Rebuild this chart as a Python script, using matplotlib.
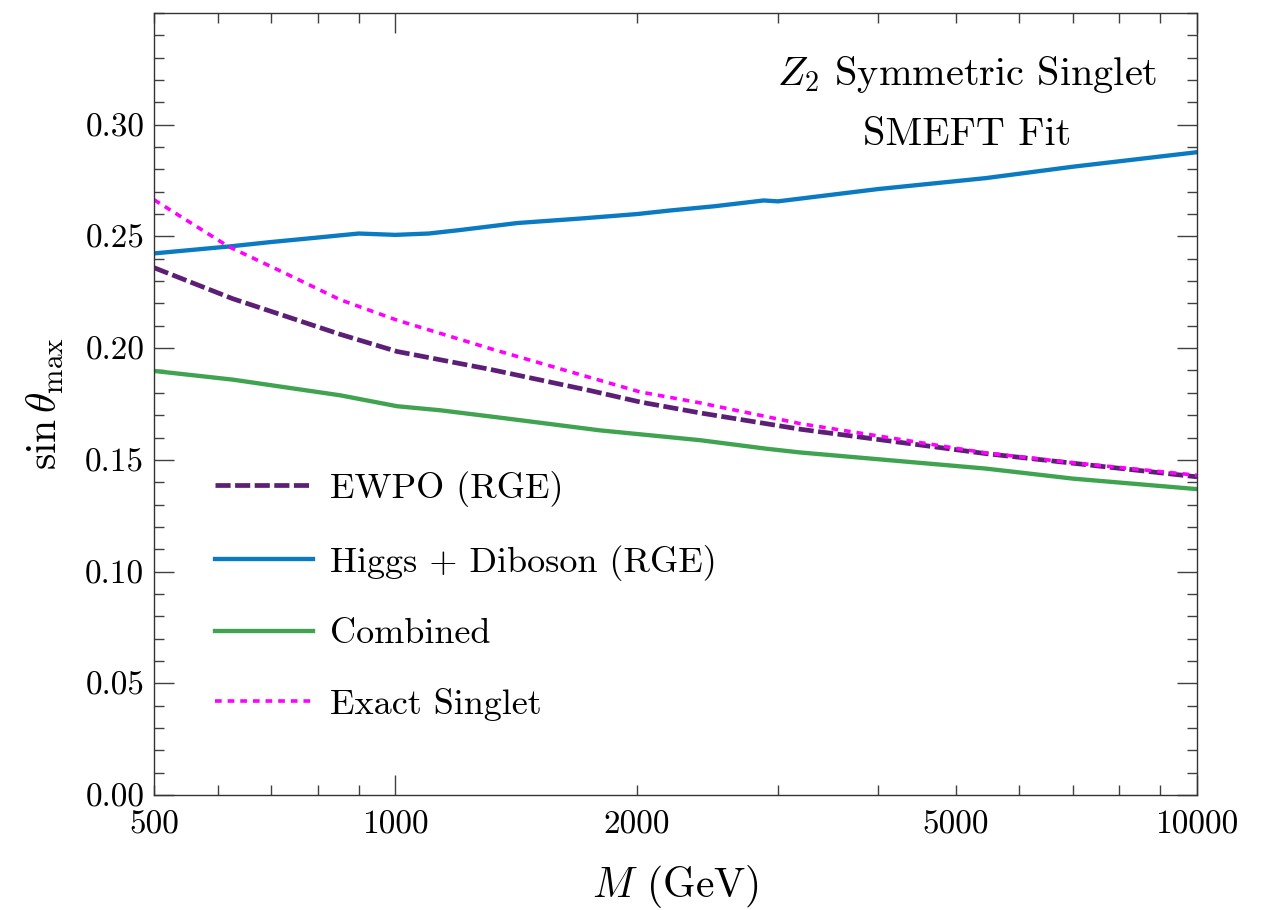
import numpy as np
import matplotlib
matplotlib.use("Agg")
import matplotlib.pyplot as plt
from matplotlib.ticker import FixedLocator, FuncFormatter, MultipleLocator

plt.rcParams['font.family'] = 'serif'
plt.rcParams['font.serif'] = ['cmr10']
plt.rcParams['mathtext.fontset'] = 'cm'
plt.rcParams['axes.formatter.use_mathtext'] = True

# values
m_higgs = [500, 620, 700, 800, 900, 1000, 1100, 1200, 1420, 1700, 2000, 2200, 2500, 2880, 3000, 4000, 5450, 7000, 10000]
s_higgs = [0.2424, 0.2455, 0.2475, 0.2495, 0.2513, 0.2507, 0.2513, 0.2528, 0.2560, 0.2580, 0.2600, 0.2616, 0.2635, 0.2661, 0.2657, 0.2712, 0.2761, 0.2812, 0.2877]

m_comb = [500, 627, 853, 1005, 1137, 1350, 1800, 2400, 2900, 3200, 5450, 7000, 10000]
s_comb = [0.1898, 0.1859, 0.1789, 0.1740, 0.1722, 0.1689, 0.1632, 0.1588, 0.1550, 0.1533, 0.1461, 0.1416, 0.1369]

m_ewpo = [500, 627, 724, 853, 1005, 1313, 1750, 2019, 2400, 3200, 5450, 7000, 10000]
s_ewpo = [0.2360, 0.2221, 0.2147, 0.2062, 0.1985, 0.1905, 0.1810, 0.1759, 0.1710, 0.1637, 0.1528, 0.1485, 0.1424]

m_exact = [500, 619, 724, 853, 1005, 1313, 2019, 2400, 3200, 5450, 7000, 10000]
s_exact = [0.2664, 0.2455, 0.2340, 0.2217, 0.2125, 0.1998, 0.1804, 0.1755, 0.1662, 0.1531, 0.1487, 0.1431]

x_labelled = [500, 1000, 2000, 5000, 10000]
y_ticks = [0.00, 0.05, 0.10, 0.15, 0.20, 0.25, 0.30]

fig = plt.figure(figsize=(12.68, 9.1), dpi=100)
ax = fig.add_axes([0.1215, 0.1264, 0.8225, 0.8593])

ax.plot(m_ewpo, s_ewpo, color='#5d1f75', lw=3.4, dashes=(3.2, 0.95), label='EWPO (RGE)')
ax.plot(m_higgs, s_higgs, color='#0a7ac2', lw=3.1, label='Higgs + Diboson (RGE)')
ax.plot(m_comb, s_comb, color='#3fa34f', lw=3.1, label='Combined')
ax.plot(m_exact, s_exact, color='#ff00ff', lw=2.6, dashes=(1.85, 1.65), label='Exact Singlet')

ax.set_xscale('log')
ax.xaxis.set_major_locator(FixedLocator([1000, 10000]))
ax.xaxis.set_minor_locator(FixedLocator([500, 600, 700, 800, 900, 2000, 3000, 4000,
                                         5000, 6000, 7000, 8000, 9000]))
fmt = FuncFormatter(lambda v, pos: f"{v:.0f}" if round(v) in x_labelled else "")
ax.xaxis.set_major_formatter(fmt)
ax.xaxis.set_minor_formatter(fmt)

ax.set_yticks(y_ticks)
ax.set_yticklabels([f"{v:.2f}" for v in y_ticks])
ax.yaxis.set_minor_locator(MultipleLocator(0.01))

ax.set_xlim(500, 10000)
ax.set_ylim(0, 0.35)

ax.tick_params(which='both', direction='in', top=True, right=True, labelsize=24,
               width=1.0, color='0.25')
ax.tick_params(which='major', length=14.5)
ax.tick_params(which='minor', length=7.5)
ax.tick_params(axis='x', which='both', pad=11)
ax.tick_params(axis='y', which='both', pad=7)
for sp in ax.spines.values():
    sp.set_color('0.2')
    sp.set_linewidth(1.0)

ax.set_xlabel(r'$M$ (GeV)', fontsize=30, labelpad=17)
ax.set_ylabel(r'$\sin\theta_{\rm max}$', fontsize=30, labelpad=14)

ax.text(0.7795, 0.921, r'$Z_2$ Symmetric Singlet', transform=ax.transAxes,
        ha='center', va='center', fontsize=29)
ax.text(0.7795, 0.844, 'SMEFT Fit', transform=ax.transAxes,
        ha='center', va='center', fontsize=29)

ax.legend(loc='upper left', bbox_to_anchor=(0.0274, 0.4558), frameon=False, fontsize=26,
          handlelength=2.7, handletextpad=0.47, labelspacing=1.04)

fig.savefig('out.png', dpi=100)
